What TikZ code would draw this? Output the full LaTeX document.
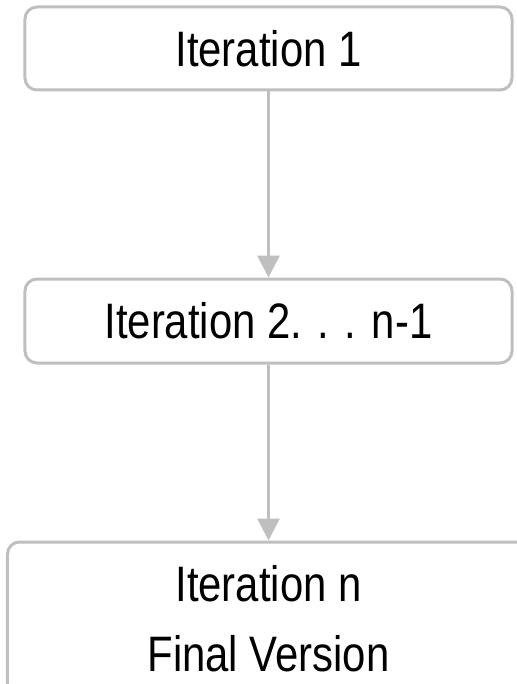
\documentclass[tikz,border=0pt]{standalone}
\usepackage{fontspec}
\newfontfamily\boxfont{Liberation Sans}[FakeStretch=0.84]
\usetikzlibrary{arrows.meta}
\begin{document}
\begin{tikzpicture}[x=1bp, y=-1bp,
  every node/.style = {shape=rectangle, rounded corners=12bp,
    draw=black!25, line width=3bp, align=center, inner sep=0pt,
    font=\boxfont\fontsize{50}{70}\selectfont},
  flow/.style = {draw=black!25, line width=3bp,
    -{Triangle[width=22bp,length=22bp]}}]
  \clip (0,0) rectangle (517,684);
  \node (first) at (268.5,48.5) [minimum width=487bp, minimum height=83bp] {Iteration 1};
  \node (middle) at (268.5,321) [minimum width=487bp, minimum height=84bp] {Iteration 2. . . n-1};
  \node (last) at (268.5,619) [minimum width=522bp, minimum height=154bp] {Iteration n\\Final Version};
  \draw[flow] (first) -- (middle);
  \draw[flow] (middle) -- (last);
\end{tikzpicture}
\end{document}
